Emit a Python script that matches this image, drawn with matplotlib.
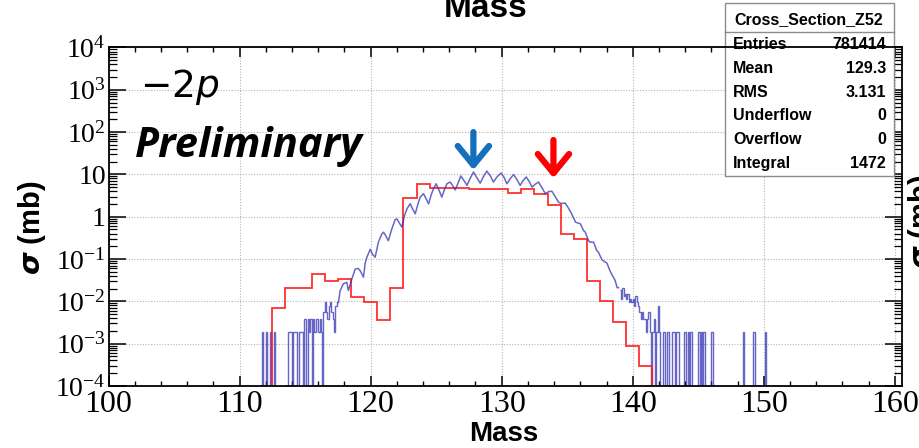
import numpy as np
import matplotlib
matplotlib.use("Agg")
import matplotlib.pyplot as plt
from matplotlib.patches import Rectangle
from matplotlib.lines import Line2D
from matplotlib.ticker import FixedLocator, MultipleLocator, LogLocator, NullFormatter

W, H = 919, 448

# red histogram: unit-mass bins (bin centre = mass number)
red_mass = [113, 114, 115, 116, 117, 118, 119, 120, 121, 122, 123, 124, 125, 126, 127,
            128, 129, 130, 131, 132, 133, 134, 135, 136, 137, 138, 139, 140, 141]
red_sigma = [0.007, 0.021, 0.021, 0.045, 0.031, 0.034, 0.0124, 0.0098, 0.0036, 0.021,
             2.77, 5.9, 4.8, 4.8, 4.8, 4.5, 4.4, 4.4, 3.7, 4.4, 3.5, 1.85, 0.39, 0.30,
             0.030, 0.010, 0.0032, 0.00089, 0.00029]

# blue histogram, dense part (fine bins)
blue_mass = [117.54, 117.67, 117.92, 118.18, 118.30, 118.57, 118.82, 119.03, 119.20, 119.45,
             119.58, 119.71, 119.97, 120.14, 120.34, 120.59, 120.85, 120.98, 121.14, 121.35,
             121.60, 121.87, 122.00, 122.20, 122.38, 122.60, 122.77, 123.02, 123.21, 123.40,
             123.61, 123.78, 124.03, 124.22, 124.42, 124.62, 124.80, 125.00, 125.22, 125.43,
             125.62, 125.82, 126.07, 126.23, 126.45, 126.65, 126.88, 127.14, 127.35, 127.59,
             127.85, 128.09, 128.36, 128.62, 128.87, 129.15, 129.37, 129.65, 129.96, 130.19,
             130.40, 130.66, 130.91, 131.16, 131.41, 131.64, 131.87, 132.10, 132.32, 132.57,
             132.81, 133.08, 133.33, 133.58, 133.83, 134.08, 134.34, 134.54, 134.84, 135.04,
             135.29, 135.64, 136.00, 136.25, 136.38, 136.63, 136.75, 137.01, 137.25, 137.38,
             137.66, 138.03, 138.26, 138.46, 138.66, 138.81, 138.92]
blue_sigma = [0.0094, 0.018, 0.026, 0.028, 0.018, 0.034, 0.058, 0.060, 0.053, 0.037,
              0.080, 0.11, 0.17, 0.13, 0.11, 0.25, 0.39, 0.43, 0.36, 0.27,
              0.50, 0.85, 0.89, 0.70, 0.57, 1.1, 1.54, 2.03, 1.5, 1.17,
              2.0, 2.9, 3.5, 2.7, 2.0, 3.3, 4.6, 6.0, 4.2, 2.9,
              4.3, 6.0, 6.6, 5.6, 4.3, 6.0, 9.2, 7.0, 5.5, 8.0,
              11.4, 8.5, 6.2, 9.0, 12.0, 9.0, 6.6, 8.8, 10.8, 8.4,
              6.0, 8.0, 9.9, 7.6, 5.5, 7.2, 8.7, 6.8, 5.0, 5.9,
              6.6, 4.8, 3.5, 3.9, 4.0, 3.0, 2.2, 2.05, 2.1, 1.7,
              1.25, 0.74, 0.68, 0.47, 0.43, 0.27, 0.25, 0.25, 0.16, 0.145,
              0.095, 0.08, 0.053, 0.04, 0.031, 0.021, 0.021]

# blue histogram, sparse tails: 0.1 wide bins (left edge) and entries per bin
left_tail_mass = [111.7, 112.0, 112.3, 112.6, 113.7, 113.8, 113.9, 114.1, 114.2, 114.3,
                  114.5, 114.6, 114.7, 114.9, 115.0, 115.2, 115.3, 115.4, 115.6, 115.7,
                  115.8, 115.9, 116.0, 116.1, 116.2, 116.4, 116.5, 116.6, 116.7, 116.8,
                  116.9, 117.0, 117.1, 117.2, 117.3, 117.4]
left_tail_count = [1, 1, 1, 1, 1, 1, 1, 1, 1, 1,
                   1, 1, 1, 2, 2, 2, 1, 2, 2, 1,
                   2, 2, 1, 2, 1, 3, 5, 3, 2, 4,
                   5, 3, 2, 1, 4, 5]
right_tail_mass = [139.0, 139.1, 139.2, 139.3, 139.4, 139.5, 139.6, 139.7, 139.8, 139.9,
                   140.0, 140.1, 140.2, 140.3, 140.4, 140.5, 140.6, 140.7, 140.8, 140.9,
                   141.0, 141.1, 141.2, 141.3, 141.5, 141.6, 141.8, 141.9, 142.0, 142.3,
                   142.4, 142.6, 142.7, 143.0, 143.1, 143.3, 143.4, 143.9, 144.0, 144.2,
                   144.4, 145.0, 145.2, 145.4, 146.0, 148.4, 149.2, 150.1]
right_tail_count = [10, 6, 11, 7, 8, 6, 8, 5, 6, 5,
                    6, 4, 7, 5, 4, 3, 2, 3, 2, 2,
                    1, 2, 3, 1, 1, 2, 1, 4, 1, 1,
                    1, 1, 1, 1, 1, 1, 1, 1, 1, 1,
                    1, 1, 1, 1, 1, 1, 1, 1]
entry_weight = 1472 / 781414

stats_names = ["Entries", "Mean", "RMS", "Underflow", "Overflow", "Integral"]
stats_values = ["781414", "129.3", "3.131", "0", "0", "1472"]

x_ticks = [100, 110, 120, 130, 140, 150, 160]
y_ticks = [1e-4, 1e-3, 1e-2, 1e-1, 1, 10, 1e2, 1e3, 1e4]
y_ticklabels = [r"$\mathregular{10^{-4}}$", r"$\mathregular{10^{-3}}$", r"$\mathregular{10^{-2}}$",
                r"$\mathregular{10^{-1}}$", "1", "10", r"$\mathregular{10^{2}}$",
                r"$\mathregular{10^{3}}$", r"$\mathregular{10^{4}}$"]


def fpos(x, y):
    return x / W, 1 - y / H


def tail_stairs(ax, lo, hi, masses, counts, **kw):
    edges = np.round(np.arange(lo, hi + 0.05, 0.1), 1)
    vals = np.zeros(len(edges) - 1)
    for m, c in zip(masses, counts):
        vals[int(round((m - lo) * 10))] = c * entry_weight
    ax.stairs(vals, edges, baseline=None, **kw)


fig = plt.figure(figsize=(W / 100, H / 100), dpi=100)
ax = fig.add_axes([108.6 / W, 1 - 385.9 / H, (902 - 108.6) / W, (385.9 - 47.5) / H])
ax.set_yscale("log", nonpositive="clip")
ax.set_xlim(100, 160.55)
ax.set_ylim(1e-4, 1e4)
ax.set_axisbelow(True)

blue = "#2424b0"
tail_stairs(ax, 111.0, 117.5, left_tail_mass, left_tail_count, color=blue, lw=1.0, alpha=0.7)
tail_stairs(ax, 139.0, 151.0, right_tail_mass, right_tail_count, color=blue, lw=1.0, alpha=0.7)
ax.plot(blue_mass, blue_sigma, color="#3434b0", lw=1.1, alpha=0.75)

red_edges = [m - 0.5 for m in red_mass] + [red_mass[-1] + 0.5]
ax.stairs(red_sigma, red_edges, baseline=0, color="#ff1a1a", lw=1.3, alpha=0.9)

# arrows
ax.annotate("", xy=(127.84, 12.7), xytext=(127.84, 100),
            arrowprops=dict(arrowstyle="->,head_length=0.55,head_width=0.45",
                            color="#1470bd", lw=4.5, mutation_scale=25,
                            shrinkA=0, shrinkB=0))
ax.annotate("", xy=(133.95, 8.2), xytext=(133.95, 65),
            arrowprops=dict(arrowstyle="->,head_length=0.55,head_width=0.45",
                            color="#ff0000", lw=4.5, mutation_scale=25,
                            shrinkA=0, shrinkB=0))

# axes cosmetics (ROOT style)
ax.xaxis.set_major_locator(FixedLocator(x_ticks))
ax.xaxis.set_minor_locator(MultipleLocator(2))
ax.yaxis.set_major_locator(FixedLocator(y_ticks))
ax.yaxis.set_minor_locator(LogLocator(base=10, subs=range(2, 10), numticks=50))
ax.yaxis.set_minor_formatter(NullFormatter())
ax.set_xticklabels([str(v) for v in x_ticks], fontfamily="Liberation Serif", fontsize=23)
ax.set_yticklabels(y_ticklabels, fontfamily="Liberation Serif", fontsize=20)
ax.tick_params(axis="x", which="major", direction="in", length=7, width=1.1,
               top=True, pad=3)
ax.tick_params(axis="x", which="minor", direction="in", length=3.5, width=1, top=True)
ax.tick_params(axis="y", which="major", direction="in", length=12, width=1.1,
               right=True, pad=2)
ax.tick_params(axis="y", which="minor", direction="in", length=6, width=0.9, right=True)
ax.grid(True, which="major", color="#b5b5b5", linestyle=(0, (1, 1.5)), lw=0.8)
for s in ax.spines.values():
    s.set_linewidth(1.3)

# statistics box (sits under the frame line)
box = Rectangle(fpos(724.7, 176), (894 - 724.7) / W, (176 - 3) / H, transform=fig.transFigure,
                facecolor="white", edgecolor="#8c8c8c", lw=1.0, zorder=2.4, clip_on=False)
ax.add_artist(box)
ax.add_artist(Line2D([724.7 / W, 894 / W], [1 - 32.3 / H] * 2, transform=fig.transFigure,
                     color="#8c8c8c", lw=1.0, zorder=2.41, clip_on=False))
fig.text(*fpos(809, 20), "Cross_Section_Z52", ha="center", va="center",
         fontfamily="Liberation Sans", fontweight="bold", fontsize=11.5, zorder=5)
for i, (nm, val) in enumerate(zip(stats_names, stats_values)):
    yy = 44.3 + i * 23.9
    fig.text(*fpos(733.3, yy), nm, ha="left", va="center", fontfamily="Liberation Sans",
             fontweight="bold", fontsize=11.5, zorder=5)
    fig.text(*fpos(886, yy), val, ha="right", va="center", fontfamily="Liberation Sans",
             fontweight="bold", fontsize=11.5, zorder=5)

# labels
fig.text(*fpos(486, 17), "Mass", ha="center", va="baseline", fontfamily="Liberation Sans",
         fontweight="bold", fontsize=24)
fig.text(*fpos(504, 441), "Mass", ha="center", va="baseline", fontfamily="Liberation Sans",
         fontweight="bold", fontsize=20)
fig.text(*fpos(32, 228), r"$\boldsymbol{\sigma}$ (mb)", rotation=90, ha="center", va="center",
         fontfamily="Liberation Sans", fontweight="bold", fontsize=21,
         math_fontfamily="dejavusans")
fig.text(*fpos(906, 222), r"$\boldsymbol{\sigma}$ (mb)", rotation=90, ha="left", va="center",
         fontfamily="Liberation Sans", fontweight="bold", fontsize=21,
         math_fontfamily="dejavusans")
fig.text(*fpos(140, 97), r"$-2p$", ha="left", va="baseline", fontsize=27,
         math_fontfamily="dejavusans")
fig.text(*fpos(135, 157), "Preliminary", ha="left", va="baseline", fontfamily="Open Sans",
         fontweight="bold", fontstyle="italic", fontsize=30)

fig.savefig("out.png", dpi=100)
